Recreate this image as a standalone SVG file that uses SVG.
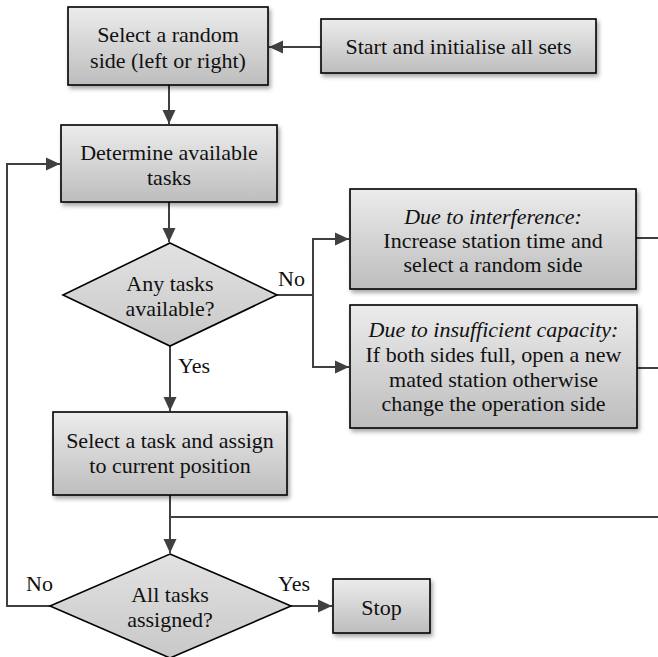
<svg xmlns="http://www.w3.org/2000/svg" width="658" height="657" viewBox="0 0 658 657">
<defs>
<linearGradient id="g" x1="0" y1="0" x2="0" y2="1">
<stop offset="0" stop-color="#ececec"/>
<stop offset="1" stop-color="#bdbdbd"/>
</linearGradient>
<linearGradient id="gd" x1="0" y1="0" x2="0" y2="1">
<stop offset="0" stop-color="#e2e2e2"/>
<stop offset="1" stop-color="#c8c8c8"/>
</linearGradient>
<filter id="sh" x="-10%" y="-10%" width="125%" height="135%">
<feDropShadow dx="2" dy="3" stdDeviation="2" flood-color="#000" flood-opacity="0.35"/>
</filter>
<marker id="ah" viewBox="0 0 14 14" refX="14" refY="7" markerWidth="14" markerHeight="14" markerUnits="userSpaceOnUse" orient="auto">
<path d="M0,0.5 L14,7 L0,13.5 z" fill="#404040"/>
</marker>
</defs>
<style>
.box{fill:url(#g);stroke:#000;stroke-width:1.6;filter:url(#sh)}
.dia{fill:url(#gd);stroke:#000;stroke-width:1.6}
.t{font-family:"Liberation Serif","Times New Roman",serif;font-size:22px;fill:#111;text-anchor:middle}
.l{font-family:"Liberation Serif","Times New Roman",serif;font-size:22px;fill:#111}
.c{fill:none;stroke:#404040;stroke-width:2}
</style>
<g id="connectors">
<path class="c" d="M321,47 H269" marker-end="url(#ah)"/>
<path class="c" d="M169,85 V124" marker-end="url(#ah)"/>
<path class="c" d="M169,202 V242" marker-end="url(#ah)"/>
<path class="c" d="M277,295 H313 V239 H349" marker-end="url(#ah)"/>
<path class="c" d="M313,295 V367 H349" marker-end="url(#ah)"/>
<path class="c" d="M636,238 H658"/>
<path class="c" d="M637,368 H658"/>
<path class="c" d="M170,346 V411" marker-end="url(#ah)"/>
<path class="c" d="M170,495 V553" marker-end="url(#ah)"/>
<path class="c" d="M170,517 H658"/>
<path class="c" d="M291,606 H332" marker-end="url(#ah)"/>
<path class="c" d="M50,606 H7 V164 H60" marker-end="url(#ah)"/>
<text class="l" x="278" y="286">No</text>
<text class="l" x="178" y="373">Yes</text>
<text class="l" x="26" y="591">No</text>
<text class="l" x="278" y="591">Yes</text>
</g>
<g id="start">
<rect class="box" x="321" y="19" width="275" height="54"/>
<text class="t" x="458.5" y="54">Start and initialise all sets</text>
</g>
<g id="select-side">
<rect class="box" x="68" y="7" width="200" height="78"/>
<text class="t" x="168" y="42">Select a random</text>
<text class="t" x="168" y="68">side (left or right)</text>
</g>
<g id="determine">
<rect class="box" x="61" y="125" width="216" height="77"/>
<text class="t" x="169" y="160">Determine available</text>
<text class="t" x="169" y="185">tasks</text>
</g>
<g id="any-tasks">
<polygon class="dia" points="170,243 277,295 170,346 63,295"/>
<text class="t" x="170" y="291">Any tasks</text>
<text class="t" x="170" y="316">available?</text>
</g>
<g id="interference">
<rect class="box" x="350" y="189" width="286" height="100"/>
<text class="t" x="493" y="224" font-style="italic">Due to interference:</text>
<text class="t" x="493" y="248">Increase station time and</text>
<text class="t" x="493" y="272">select a random side</text>
</g>
<g id="capacity">
<rect class="box" x="350" y="305" width="287" height="123"/>
<text class="t" x="493.5" y="337" font-style="italic">Due to insufficient capacity:</text>
<text class="t" x="493.5" y="362">If both sides full, open a new</text>
<text class="t" x="493.5" y="387">mated station otherwise</text>
<text class="t" x="493.5" y="411">change the operation side</text>
</g>
<g id="assign">
<rect class="box" x="53" y="412" width="234" height="83"/>
<text class="t" x="170" y="448">Select a task and assign</text>
<text class="t" x="170" y="473">to current position</text>
</g>
<g id="all-assigned">
<polygon class="dia" points="170,554 291,606 170,658 50,606"/>
<text class="t" x="170" y="602">All tasks</text>
<text class="t" x="170" y="627">assigned?</text>
</g>
<g id="stop">
<rect class="box" x="333" y="579" width="97" height="54"/>
<text class="t" x="381.5" y="615">Stop</text>
</g>
</svg>
